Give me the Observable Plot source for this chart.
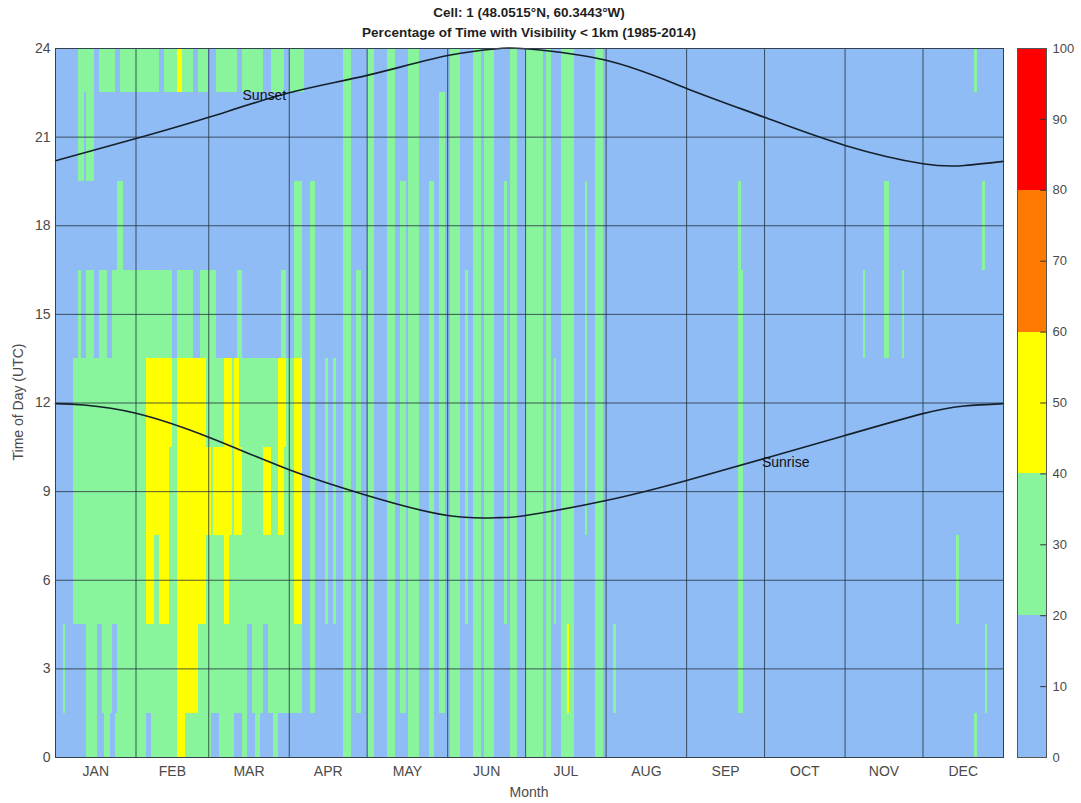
<!DOCTYPE html>
<html><head><meta charset="utf-8">
<script src="https://cdn.jsdelivr.net/npm/d3@7"></script>
<script src="https://cdn.jsdelivr.net/npm/@observablehq/plot@0.6"></script>
<style>
body{margin:0;background:#fff;font-family:Arial,"Liberation Sans",sans-serif;}
#wrap{position:relative;width:1081px;height:803px;overflow:hidden;}
#main{position:absolute;left:0;top:0;}
#cbar{position:absolute;left:1000px;top:0;}
#title{position:absolute;left:55px;width:948px;top:3px;text-align:center;font-weight:bold;font-size:13.5px;line-height:20px;color:#1f1f1f;}
#xlab{position:absolute;left:55px;width:948px;top:784px;text-align:center;font-size:14px;color:#4a4a4a;}
#ylab{position:absolute;left:18px;top:402px;transform:translate(-50%,-50%) rotate(-90deg);white-space:nowrap;font-size:14px;color:#4a4a4a;}
</style></head><body>
<div id="wrap">
<div id="main"></div>
<div id="cbar"></div>
<div id="title">Cell: 1 (48.0515°N, 60.3443°W)<br>Percentage of Time with Visibility &lt; 1km (1985-2014)</div>
<div id="xlab">Month</div>
<div id="ylab">Time of Day (UTC)</div>
</div>
<script>
// ---- axes / ticks ----
const months = ["JAN","FEB","MAR","APR","MAY","JUN","JUL","AUG","SEP","OCT","NOV","DEC"];
const monthMids = [15.5,45,74.5,105,135.5,166,196.5,227.5,258,288.5,319,349.5];
const monthEnds = [31,59,90,120,151,181,212,243,273,304,334];
const hourTicks = [0,3,6,9,12,15,18,21,24];
const obsHours = [0,3,6,9,12,15,18,21,24];
const cbarTicks = [0,10,20,30,40,50,60,70,80,90,100];
const binEdges = [20,40,60,80];
const binColors = ["#8fbcf5","#88f59c","#ffff00","#ff7a00","#ff0000"];

// ---- values (percent of time, per colour class) ----
const BLUE = 10, GREEN = 30, YELLOW = 50;
// [firstDay, lastDay, lowHour, highHour, percent] painted in order over blue
const patches = [
  // Jan-Mar, 24 UTC (top band)
  [10,15,24,24,GREEN],[18,23,24,24,GREEN],[26,40,24,24,GREEN],[43,47,24,24,GREEN],
  [48,49,24,24,YELLOW],[50,53,24,24,GREEN],[56,59,24,24,GREEN],[63,70,24,24,GREEN],
  [73,80,24,24,GREEN],[84,88,24,24,GREEN],[91,96,24,24,GREEN],
  // 21 and 18 UTC
  [10,11,21,21,GREEN],[13,15,21,21,GREEN],[25,26,18,18,GREEN],
  // 15 UTC
  [10,10,15,15,GREEN],[13,15,15,15,GREEN],[18,20,15,15,GREEN],[23,45,15,15,GREEN],
  [48,53,15,15,GREEN],[57,62,15,15,GREEN],[71,72,15,15,GREEN],[88,89,15,15,GREEN],
  // 6-12 UTC block
  [8,94,6,12,GREEN],
  [36,45,12,12,YELLOW],[48,58,12,12,YELLOW],[66,68,12,12,YELLOW],[70,71,12,12,YELLOW],[87,89,12,12,YELLOW],
  [36,44,9,9,YELLOW],[48,60,9,9,YELLOW],[62,68,9,9,YELLOW],[70,72,9,9,YELLOW],[81,83,9,9,YELLOW],[87,88,9,9,YELLOW],
  [36,38,6,6,YELLOW],[41,44,6,6,YELLOW],[48,58,6,6,YELLOW],[66,67,6,6,YELLOW],
  // 3 UTC
  [4,4,3,3,GREEN],[13,16,3,3,GREEN],[19,22,3,3,GREEN],[25,95,3,3,GREEN],[48,55,3,3,YELLOW],
  [75,76,3,3,BLUE],[81,82,3,3,BLUE],
  // 0 UTC
  [13,16,0,0,GREEN],[20,21,0,0,GREEN],[24,35,0,0,GREEN],[38,47,0,0,GREEN],[48,50,0,0,YELLOW],
  [51,60,0,0,GREEN],[64,69,0,0,GREEN],[73,74,0,0,GREEN],[78,79,0,0,GREEN],[85,86,0,0,GREEN],
  // early April
  [93,95,15,18,GREEN],[93,95,6,12,YELLOW],
  // Apr-Jul stripes
  [99,100,3,18,GREEN],[105,105,6,12,GREEN],[108,108,6,12,GREEN],[112,114,0,24,GREEN],
  [117,118,3,15,GREEN],[121,123,0,24,GREEN],[129,131,0,24,GREEN],[134,135,3,18,GREEN],
  [137,140,0,24,GREEN],[145,146,0,18,GREEN],[149,150,3,21,GREEN],[153,156,0,24,GREEN],
  [159,159,6,15,GREEN],[162,164,0,24,GREEN],[166,169,0,24,GREEN],[174,174,6,18,GREEN],
  [176,178,0,24,GREEN],[182,188,0,24,GREEN],[190,191,0,24,GREEN],[193,193,6,12,GREEN],
  [196,200,0,24,GREEN],[198,198,3,3,YELLOW],[205,205,9,18,GREEN],[209,211,0,24,GREEN],
  // Aug-Dec
  [216,216,3,3,GREEN],[264,264,3,18,GREEN],[265,265,3,15,GREEN],[312,312,15,15,GREEN],
  [320,321,15,18,GREEN],[327,327,15,15,GREEN],[348,348,6,6,GREEN],[355,355,24,24,GREEN],
  [355,355,0,0,GREEN],[358,358,18,18,GREEN],[359,359,3,3,GREEN]
];

// ---- sunrise / sunset (UTC hour) ----
const sunsetDay  = [0,31,59,90,120,151,171,181,212,243,273,304,334,350,365];
const sunsetHour = [20.2,20.95,21.67,22.5,23.09,23.76,24.0,23.99,23.6,22.65,21.67,20.72,20.1,20.04,20.18];
const sunriseDay  = [0,11,31,59,90,120,151,171,181,212,243,273,304,334,350,365];
const sunriseHour = [11.98,11.93,11.65,10.84,9.74,8.87,8.19,8.12,8.19,8.7,9.38,10.12,10.9,11.64,11.9,11.98];

// ---- build the grid ----
const grid = obsHours.map(() => Array.from({length: 366}, () => BLUE));
for (const [d1, d2, h1, h2, v] of patches) {
  obsHours.forEach((h, i) => {
    if (h >= h1 && h <= h2) for (let d = d1; d <= d2; d++) grid[i][d] = v;
  });
}
const cells = [];
obsHours.forEach((h, i) => {
  for (let d = 1; d <= 365; d++) cells.push({d, h, v: grid[i][d]});
});
const sunset = sunsetDay.map((d, i) => ({d, h: sunsetHour[i]}));
const sunrise = sunriseDay.map((d, i) => ({d, h: sunriseHour[i]}));
const colorScale = {type: "threshold", domain: binEdges, range: binColors};

const main = Plot.plot({
  width: 1081, height: 803,
  marginTop: 48, marginRight: 78, marginBottom: 46, marginLeft: 55,
  style: {fontFamily: "Arial, 'Liberation Sans', sans-serif", fontSize: "14px", color: "#4a4a4a", background: "transparent"},
  x: {domain: [0, 365]},
  y: {domain: [0, 24]},
  color: colorScale,
  marks: [
    Plot.rect(cells, {x1: c => c.d - 1, x2: c => c.d, y1: c => Math.max(0, c.h - 1.5), y2: c => Math.min(24, c.h + 1.5), fill: "v", shapeRendering: "crispEdges"}),
    Plot.ruleX(monthEnds, {stroke: "#24303c", strokeOpacity: 0.8, strokeWidth: 1}),
    Plot.ruleY([3,6,9,12,15,18,21], {stroke: "#24303c", strokeOpacity: 0.8, strokeWidth: 1}),
    Plot.line(sunset, {x: "d", y: "h", curve: "natural", stroke: "#15202c", strokeWidth: 1.6}),
    Plot.line(sunrise, {x: "d", y: "h", curve: "natural", stroke: "#15202c", strokeWidth: 1.6}),
    Plot.text([{d: 72, h: 22.4, t: "Sunset"}, {d: 272, h: 10.0, t: "Sunrise"}], {x: "d", y: "h", text: "t", textAnchor: "start", fill: "#111", fontSize: 14}),
    Plot.axisX({ticks: monthMids, tickFormat: d => months[monthMids.indexOf(d)], tickSize: 0, tickPadding: 9, label: null}),
    Plot.axisY({ticks: hourTicks, tickSize: 0, tickPadding: 5, label: null}),
    Plot.frame({stroke: "#34404c", strokeWidth: 1})
  ]
});
document.getElementById("main").appendChild(main);

const bins = [[0,20,10],[20,40,30],[40,60,50],[60,80,70],[80,100,90]];
const cbar = Plot.plot({
  width: 81, height: 803,
  marginTop: 48, marginBottom: 46, marginLeft: 17, marginRight: 35,
  style: {fontFamily: "Arial, 'Liberation Sans', sans-serif", fontSize: "13px", color: "#4a4a4a", background: "transparent"},
  x: {domain: [0, 1], axis: null},
  y: {domain: [0, 100]},
  color: colorScale,
  marks: [
    Plot.rect(bins, {x1: 0, x2: 1, y1: b => b[0], y2: b => b[1], fill: b => b[2], shapeRendering: "crispEdges"}),
    Plot.ruleY(cbarTicks, {x1: 0.8, x2: 1, stroke: "#333", strokeWidth: 1}),
    Plot.axisY({anchor: "right", ticks: cbarTicks, tickSize: 0, tickPadding: 6, label: null}),
    Plot.frame({stroke: "#555", strokeWidth: 1})
  ]
});
document.getElementById("cbar").appendChild(cbar);
</script>
</body></html>
